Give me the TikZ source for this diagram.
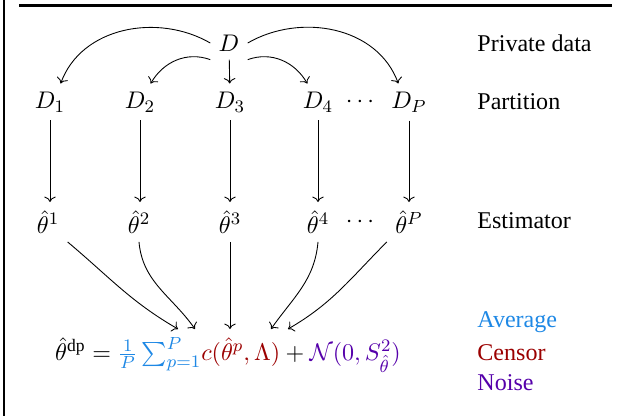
\documentclass[tikz,border=0pt,11pt]{standalone}
\usepackage{amsmath}
\usepackage{fontspec}
\setmainfont{Liberation Serif}
\usepackage{xcolor}
\usetikzlibrary{arrows.meta, positioning, calc}
\definecolor{avgblue}{RGB}{30,136,229}
\definecolor{censred}{RGB}{155,0,0}
\definecolor{noisepurple}{RGB}{85,0,170}

\begin{document}
\begin{tikzpicture}[
      x=0.016cm, y=-0.016cm,
      var/.style={inner sep=0.333em},
      lbl/.style={anchor=west, inner sep=0pt, font=\rmfamily\normalsize},
      arr/.style={->},
      frame/.style={line width=1.2pt},
  ]
  \useasboundingbox (0,0) rectangle (622,416);

  %% frame
  \draw[frame] (4,0) -- (4,416);
  \draw[frame] (19,5.5) -- (612,5.5);

  %% private data
  \node[var] (D) at (229,43) {$D$};

  %% partitions
  \node[var] (D1) at (50,102)  {$D_1$};
  \node[var] (D2) at (140,102) {$D_2$};
  \node[var] (D3) at (230,102) {$D_3$};
  \node[var] (D4) at (318,102) {$D_4$};
  \node[var] (Ddots) at (362,102) {$\cdots$};
  \node[var] (DP) at (409,102) {$D_P$};

  %% estimators
  \node[var] (th1) at (48,222)  {$\hat\theta^1$};
  \node[var] (th2) at (139,222) {$\hat\theta^2$};
  \node[var] (th3) at (230,222) {$\hat\theta^3$};
  \node[var] (th4) at (318,222) {$\hat\theta^4$};
  \node[var] (thdots) at (362,222) {$\cdots$};
  \node[var] (thP) at (409,222) {$\hat\theta^P$};

  %% private estimator
  \node[var] (est) at (228,355) {$\hat\theta^{\mathrm{dp}} =
      {\color{avgblue}\frac{1}{P}\sum_{p=1}^{P}}
      {\color{censred}c(\hat\theta^p,\Lambda)} +
      {\color{noisepurple}\mathcal{N}(0,S^2_{\hat\theta})}$};

  %% row labels
  \node[lbl] (lpriv) at (477,43)  {Private data};
  \node[lbl] (lpart) at (477,102) {Partition};
  \node[lbl] (lest)  at (477,221) {Estimator};
  \node[lbl, text=avgblue]     (lavg)   at (477,322) {Average};
  \node[lbl, text=censred]     (lcens)  at (477,353) {Censor};
  \node[lbl, text=noisepurple] (lnoise) at (477,383) {Noise};

  %% Arrows
  \draw[arr] (D.west)       to[out=150, in=70]  (D1.60);
  \draw[arr] (D.south west) to[out=160, in=60]  (D2.60);
  \draw[arr] (D)            --                  (D3);
  \draw[arr] (D.south east) to[out=20,  in=120] (D4.120);
  \draw[arr] (D.east)       to[out=30,  in=110] (DP.120);

  \foreach \i in {1,2,3,4,P}
    \draw[arr] (D\i) -- (D\i |- th\i.north);

  \draw[arr] (th1.south east) to[out=-40, in=150] ($(est.north)+(-50,0)$);
  \draw[arr] (th2.south)      to[out=-85, in=125] ($(est.north)+(-33,0)$);
  \draw[arr] (th3)            --                  (th3.south |- est.north);
  \draw[arr] (th4.south)      to[out=-95, in=55]  ($(est.north)+(43,0)$);
  \draw[arr] (thP.south west) to[out=-135, in=30] ($(est.north)+(60,0)$);

\end{tikzpicture}
\end{document}
